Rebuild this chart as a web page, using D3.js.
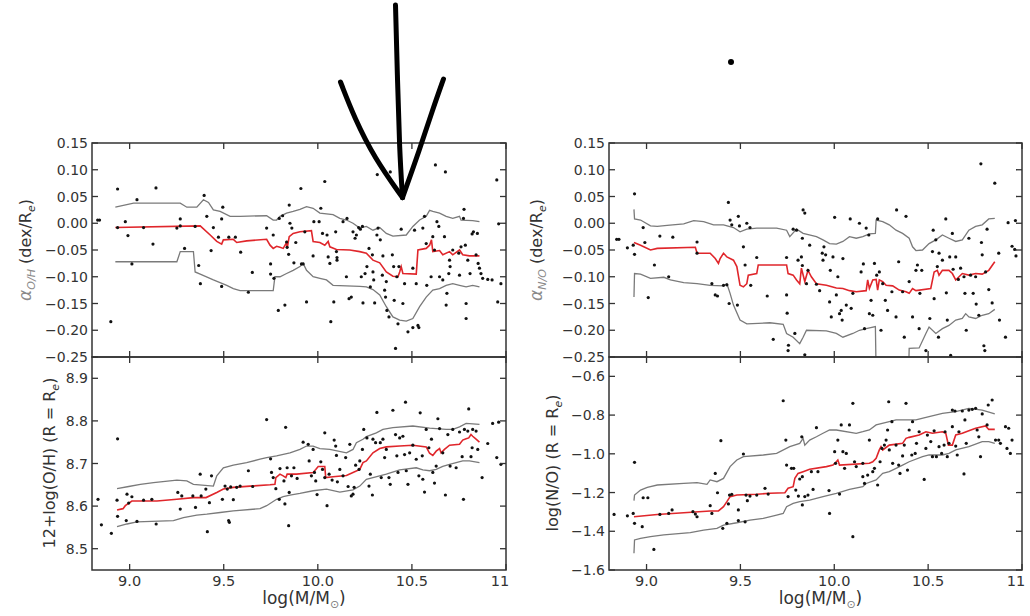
<!DOCTYPE html>
<html><head><meta charset="utf-8">
<script src="https://cdn.jsdelivr.net/npm/d3@7"></script>
<style>html,body{margin:0;padding:0;background:#fff}svg{display:block}</style>
</head><body>
<svg id="c" width="1030" height="616"></svg>
<script>
// ---------------- DATA ----------------
const xTicks = [9.0, 9.5, 10.0, 10.5, 11];
const xTickLabels = ["9.0", "9.5", "10.0", "10.5", "11"];
const alphaTicks = [0.15, 0.10, 0.05, 0.00, -0.05, -0.10, -0.15, -0.20, -0.25];
const ohTicks = [8.5, 8.6, 8.7, 8.8, 8.9];
const noTicks = [-0.6, -0.8, -1.0, -1.2, -1.4, -1.6];

// alpha_O/H vs mass
const alphaOHPts = [[8.83,0.006],[8.84,0.006],[8.90,-0.184],[8.936,0.064],[8.936,-0.008],[8.977,0.003],[8.991,-0.023],[9.012,-0.076],[9.039,0.044],[9.074,-0.008],[9.124,-0.039],[9.140,0.066],[9.251,-0.009],[9.269,0.008],[9.269,-0.005],[9.292,-0.047],[9.348,-0.006],[9.367,-0.079],[9.376,-0.113],[9.396,0.052],[9.410,0.013],[9.433,-0.051],[9.445,-0.008],[9.489,0.008],[9.495,0.030],[9.472,-0.026],[9.527,-0.026],[9.562,-0.026],[9.489,-0.118],[9.590,-0.054],[9.631,-0.129],[9.652,-0.092],[9.728,-0.009],[9.749,-0.076],[9.749,-0.095],[9.763,-0.022],[9.767,-0.103],[9.790,-0.163],[9.795,0.009],[9.813,0.014],[9.825,-0.153],[9.834,-0.035],[9.837,-0.045],[9.845,-0.058],[9.848,0.034],[9.852,0.000],[9.862,-0.009],[9.873,-0.074],[9.883,-0.036],[9.910,0.065],[9.913,-0.076],[9.922,-0.076],[9.931,-0.016],[9.940,-0.147],[9.975,-0.061],[9.979,0.003],[10.007,0.003],[10.016,0.028],[10.037,0.078],[10.025,-0.019],[10.049,-0.022],[10.055,-0.063],[10.064,-0.075],[10.069,-0.184],[10.085,-0.147],[10.095,-0.016],[10.099,-0.053],[10.102,-0.064],[10.102,-0.069],[10.134,0.003],[10.155,0.009],[10.152,-0.100],[10.166,-0.141],[10.178,-0.138],[10.187,-0.016],[10.198,-0.028],[10.205,-0.022],[10.217,-0.008],[10.226,-0.011],[10.237,-0.006],[10.231,-0.100],[10.240,-0.149],[10.251,-0.094],[10.261,-0.081],[10.272,-0.047],[10.279,-0.119],[10.290,-0.059],[10.293,-0.091],[10.297,-0.106],[10.302,-0.149],[10.316,0.091],[10.314,-0.022],[10.320,-0.009],[10.332,-0.031],[10.343,-0.097],[10.346,-0.061],[10.355,-0.125],[10.360,-0.138],[10.364,-0.109],[10.367,-0.163],[10.378,-0.175],[10.385,0.096],[10.396,-0.059],[10.403,-0.081],[10.406,-0.144],[10.413,-0.234],[10.420,-0.100],[10.431,-0.081],[10.426,-0.188],[10.443,-0.011],[10.452,-0.150],[10.461,-0.113],[10.479,-0.203],[10.505,-0.195],[10.532,-0.191],[10.505,-0.084],[10.514,-0.013],[10.523,-0.113],[10.537,-0.195],[10.558,-0.009],[10.567,0.013],[10.576,-0.038],[10.579,-0.116],[10.602,-0.100],[10.611,-0.025],[10.620,-0.050],[10.625,0.109],[10.633,0.003],[10.643,-0.006],[10.647,-0.100],[10.664,-0.106],[10.673,-0.025],[10.686,-0.131],[10.682,-0.153],[10.696,-0.094],[10.700,-0.069],[10.703,-0.081],[10.678,0.096],[10.717,-0.050],[10.749,-0.056],[10.753,-0.097],[10.761,-0.044],[10.774,0.009],[10.777,0.026],[10.784,-0.041],[10.788,-0.178],[10.788,-0.150],[10.797,-0.069],[10.809,-0.094],[10.820,-0.020],[10.827,-0.016],[10.841,-0.059],[10.848,-0.019],[10.852,-0.075],[10.859,-0.084],[10.867,-0.094],[10.876,-0.103],[10.903,-0.105],[10.926,-0.106],[10.951,0.081],[10.956,-0.147],[10.961,-0.001],[10.973,-0.113]];
const alphaOHMed = [[8.924,-0.008],[9.375,-0.005],[9.428,-0.022],[9.463,-0.034],[9.489,-0.039],[9.498,-0.031],[9.551,-0.030],[9.569,-0.036],[9.622,-0.033],[9.728,-0.030],[9.746,-0.041],[9.763,-0.047],[9.781,-0.043],[9.799,-0.045],[9.816,-0.047],[9.834,-0.036],[9.837,-0.047],[9.848,-0.025],[9.869,-0.019],[9.905,-0.016],[9.966,-0.014],[9.975,-0.034],[10.011,-0.036],[10.037,-0.041],[10.055,-0.034],[10.064,-0.044],[10.099,-0.049],[10.170,-0.050],[10.223,-0.053],[10.258,-0.056],[10.293,-0.069],[10.329,-0.074],[10.364,-0.091],[10.399,-0.099],[10.426,-0.100],[10.435,-0.091],[10.443,-0.081],[10.452,-0.094],[10.523,-0.095],[10.532,-0.050],[10.576,-0.047],[10.594,-0.041],[10.604,-0.031],[10.611,-0.053],[10.647,-0.051],[10.664,-0.059],[10.700,-0.053],[10.717,-0.059],[10.753,-0.050],[10.770,-0.059],[10.806,-0.061],[10.859,-0.061]];
const alphaOHHi = [[8.924,0.030],[9.021,0.0375],[9.269,0.0375],[9.304,0.030],[9.357,0.030],[9.392,0.044],[9.419,0.039],[9.445,0.025],[9.481,0.022],[9.534,0.013],[9.587,0.013],[9.728,0.014],[9.763,0.006],[9.781,0.006],[9.799,0.013],[9.834,0.019],[9.869,0.022],[9.905,0.026],[9.940,0.031],[9.975,0.028],[10.011,0.019],[10.081,0.016],[10.117,0.009],[10.152,0.006],[10.187,0.000],[10.223,-0.009],[10.258,-0.006],[10.293,-0.013],[10.329,-0.008],[10.364,-0.019],[10.399,-0.024],[10.470,-0.022],[10.505,-0.006],[10.541,0.006],[10.576,0.013],[10.594,0.024],[10.611,0.022],[10.647,0.019],[10.682,0.013],[10.717,0.009],[10.753,0.013],[10.761,0.006],[10.823,0.005],[10.859,0.003]];
const alphaOHLo = [[8.924,-0.072],[9.251,-0.072],[9.269,-0.053],[9.339,-0.053],[9.348,-0.091],[9.375,-0.095],[9.445,-0.106],[9.516,-0.116],[9.551,-0.122],[9.587,-0.126],[9.763,-0.126],[9.772,-0.100],[9.799,-0.100],[9.834,-0.094],[9.869,-0.088],[9.905,-0.081],[9.922,-0.075],[9.940,-0.088],[9.975,-0.100],[10.011,-0.103],[10.046,-0.106],[10.081,-0.116],[10.223,-0.118],[10.258,-0.119],[10.293,-0.124],[10.329,-0.134],[10.364,-0.156],[10.399,-0.175],[10.435,-0.181],[10.470,-0.183],[10.505,-0.178],[10.541,-0.156],[10.576,-0.138],[10.611,-0.125],[10.647,-0.122],[10.682,-0.116],[10.717,-0.113],[10.753,-0.116],[10.788,-0.119],[10.823,-0.116],[10.859,-0.119]];

// 12+log(O/H) at Re vs mass
const ohPts = [[8.832,8.616],[8.850,8.556],[8.903,8.536],[8.933,8.614],[8.936,8.758],[8.936,8.576],[8.982,8.566],[8.995,8.607],[8.986,8.628],[9.012,8.622],[9.039,8.564],[9.074,8.614],[9.118,8.616],[9.141,8.558],[9.256,8.632],[9.269,8.593],[9.277,8.624],[9.336,8.624],[9.350,8.597],[9.375,8.675],[9.380,8.624],[9.405,8.640],[9.413,8.540],[9.424,8.608],[9.435,8.671],[9.493,8.616],[9.507,8.647],[9.519,8.640],[9.526,8.566],[9.530,8.562],[9.537,8.645],[9.551,8.615],[9.569,8.644],[9.587,8.647],[9.631,8.683],[9.654,8.646],[9.728,8.803],[9.749,8.711],[9.754,8.679],[9.763,8.667],[9.777,8.641],[9.795,8.616],[9.799,8.688],[9.820,8.659],[9.825,8.605],[9.829,8.785],[9.837,8.690],[9.845,8.554],[9.848,8.632],[9.860,8.671],[9.873,8.690],[9.890,8.665],[9.922,8.750],[9.949,8.745],[9.954,8.706],[9.966,8.671],[9.975,8.733],[9.982,8.679],[9.989,8.659],[9.996,8.627],[10.016,8.704],[10.025,8.686],[10.037,8.772],[10.037,8.667],[10.049,8.601],[10.060,8.675],[10.076,8.661],[10.087,8.755],[10.095,8.741],[10.099,8.719],[10.104,8.657],[10.117,8.686],[10.134,8.671],[10.148,8.714],[10.161,8.646],[10.170,8.745],[10.178,8.624],[10.187,8.628],[10.193,8.644],[10.201,8.696],[10.219,8.686],[10.223,8.706],[10.237,8.733],[10.244,8.780],[10.261,8.760],[10.272,8.647],[10.279,8.675],[10.290,8.626],[10.293,8.757],[10.307,8.749],[10.314,8.820],[10.332,8.749],[10.337,8.667],[10.346,8.757],[10.355,8.714],[10.364,8.733],[10.378,8.667],[10.385,8.651],[10.399,8.825],[10.413,8.768],[10.420,8.718],[10.426,8.679],[10.435,8.760],[10.452,8.764],[10.461,8.721],[10.466,8.844],[10.470,8.683],[10.479,8.651],[10.488,8.725],[10.505,8.743],[10.523,8.710],[10.537,8.671],[10.544,8.819],[10.555,8.718],[10.558,8.663],[10.567,8.633],[10.576,8.780],[10.590,8.737],[10.604,8.757],[10.611,8.679],[10.620,8.654],[10.629,8.694],[10.638,8.805],[10.647,8.782],[10.664,8.725],[10.678,8.626],[10.691,8.768],[10.703,8.694],[10.717,8.780],[10.735,8.690],[10.753,8.774],[10.767,8.716],[10.774,8.616],[10.779,8.780],[10.797,8.776],[10.802,8.828],[10.814,8.716],[10.820,8.737],[10.823,8.780],[10.841,8.776],[10.850,8.733],[10.873,8.667],[10.903,8.747],[10.929,8.794],[10.951,8.714],[10.961,8.797],[10.973,8.698]];
const ohMed = [[8.933,8.591],[8.965,8.594],[8.977,8.601],[9.012,8.612],[9.145,8.612],[9.251,8.616],[9.339,8.620],[9.406,8.620],[9.463,8.632],[9.498,8.640],[9.551,8.644],[9.640,8.647],[9.746,8.650],[9.772,8.651],[9.777,8.667],[9.799,8.675],[9.816,8.671],[9.830,8.667],[9.837,8.675],[9.887,8.675],[9.975,8.679],[9.989,8.686],[10.002,8.693],[10.037,8.693],[10.042,8.667],[10.081,8.669],[10.152,8.672],[10.187,8.679],[10.223,8.686],[10.240,8.702],[10.258,8.706],[10.293,8.725],[10.329,8.735],[10.364,8.739],[10.435,8.741],[10.505,8.743],[10.576,8.739],[10.594,8.724],[10.611,8.719],[10.629,8.729],[10.647,8.735],[10.655,8.725],[10.673,8.733],[10.700,8.743],[10.753,8.745],[10.770,8.755],[10.788,8.758],[10.802,8.760],[10.814,8.768],[10.823,8.764],[10.841,8.757],[10.859,8.750]];
const ohHi = [[8.933,8.641],[8.995,8.646],[9.057,8.651],[9.127,8.655],[9.251,8.661],[9.304,8.659],[9.339,8.651],[9.445,8.647],[9.463,8.671],[9.498,8.690],[9.551,8.696],[9.622,8.702],[9.693,8.710],[9.728,8.714],[9.781,8.718],[9.852,8.725],[9.905,8.733],[9.940,8.741],[9.975,8.741],[10.011,8.735],[10.064,8.733],[10.152,8.725],[10.187,8.733],[10.205,8.749],[10.240,8.757],[10.258,8.763],[10.311,8.772],[10.346,8.780],[10.399,8.784],[10.505,8.788],[10.594,8.783],[10.682,8.780],[10.717,8.780],[10.753,8.786],[10.788,8.794],[10.859,8.792]];
const ohLo = [[8.933,8.552],[8.986,8.558],[9.039,8.563],[9.233,8.566],[9.286,8.573],[9.357,8.579],[9.410,8.581],[9.481,8.585],[9.551,8.589],[9.693,8.594],[9.728,8.601],[9.781,8.616],[9.816,8.622],[9.852,8.626],[9.905,8.630],[9.975,8.636],[10.046,8.640],[10.117,8.633],[10.187,8.638],[10.223,8.647],[10.258,8.663],[10.293,8.667],[10.364,8.675],[10.435,8.685],[10.523,8.690],[10.558,8.685],[10.594,8.683],[10.629,8.686],[10.664,8.693],[10.700,8.698],[10.735,8.702],[10.770,8.706],[10.806,8.706],[10.859,8.702]];

// alpha_N/O vs mass
const alphaNOPts = [[8.841,-0.030],[8.853,-0.030],[8.898,-0.046],[8.936,0.055],[8.936,-0.058],[8.929,-0.041],[8.982,-0.008],[8.991,-0.036],[9.009,-0.139],[9.042,-0.078],[9.071,-0.024],[9.118,-0.100],[9.140,-0.026],[9.269,-0.035],[9.269,-0.056],[9.348,-0.113],[9.366,-0.134],[9.378,-0.136],[9.410,-0.116],[9.436,0.039],[9.428,-0.115],[9.440,-0.150],[9.445,0.006],[9.454,-0.003],[9.484,-0.153],[9.489,0.013],[9.495,-0.005],[9.516,-0.044],[9.525,-0.078],[9.534,0.000],[9.551,-0.008],[9.555,-0.116],[9.587,-0.064],[9.643,-0.136],[9.675,-0.217],[9.746,-0.064],[9.746,-0.134],[9.749,-0.168],[9.754,-0.238],[9.756,-0.228],[9.781,-0.011],[9.790,-0.206],[9.799,-0.013],[9.807,-0.069],[9.825,-0.063],[9.830,-0.079],[9.830,-0.028],[9.834,0.025],[9.843,0.019],[9.843,-0.246],[9.852,-0.113],[9.860,-0.088],[9.869,-0.041],[9.905,-0.114],[9.922,-0.126],[9.936,-0.056],[9.940,-0.069],[9.945,-0.044],[9.954,-0.059],[9.975,-0.147],[9.979,-0.088],[9.984,-0.175],[9.993,-0.063],[10.002,0.011],[10.011,-0.134],[10.019,-0.100],[10.028,-0.169],[10.037,-0.163],[10.042,-0.181],[10.046,-0.066],[10.064,-0.153],[10.085,0.008],[10.090,-0.159],[10.099,-0.131],[10.134,0.000],[10.143,-0.091],[10.155,-0.076],[10.161,-0.197],[10.170,-0.009],[10.184,-0.022],[10.187,-0.169],[10.196,-0.144],[10.205,-0.172],[10.214,-0.075],[10.226,-0.097],[10.231,0.008],[10.240,-0.091],[10.249,-0.200],[10.258,-0.113],[10.272,-0.144],[10.284,-0.163],[10.307,-0.128],[10.329,-0.175],[10.332,0.025],[10.343,-0.072],[10.364,-0.128],[10.373,-0.213],[10.382,0.013],[10.399,-0.109],[10.417,-0.175],[10.435,-0.088],[10.443,-0.078],[10.452,-0.197],[10.456,-0.131],[10.466,-0.088],[10.488,-0.238],[10.509,-0.178],[10.523,-0.053],[10.527,-0.013],[10.532,-0.141],[10.541,-0.031],[10.549,-0.081],[10.555,-0.213],[10.558,-0.056],[10.576,-0.069],[10.594,0.008],[10.597,-0.130],[10.602,-0.181],[10.615,-0.063],[10.620,-0.247],[10.629,-0.019],[10.633,-0.086],[10.647,-0.063],[10.661,-0.105],[10.673,-0.084],[10.691,-0.100],[10.696,-0.131],[10.703,-0.200],[10.717,-0.028],[10.726,-0.097],[10.740,-0.131],[10.753,-0.100],[10.756,-0.151],[10.770,-0.172],[10.781,0.111],[10.784,-0.036],[10.788,-0.059],[10.797,-0.229],[10.802,-0.238],[10.806,-0.091],[10.814,-0.011],[10.823,-0.124],[10.841,-0.149],[10.855,0.075],[10.876,-0.056],[10.880,-0.181],[10.912,-0.213],[10.926,0.001],[10.947,-0.043],[10.961,-0.049],[10.968,-0.061],[10.965,0.005]];
const alphaNOMed = [[8.933,-0.036],[8.968,-0.041],[9.021,-0.050],[9.057,-0.047],[9.260,-0.045],[9.269,-0.056],[9.339,-0.056],[9.366,-0.066],[9.383,-0.075],[9.392,-0.066],[9.410,-0.056],[9.428,-0.063],[9.463,-0.069],[9.481,-0.081],[9.498,-0.116],[9.516,-0.119],[9.534,-0.113],[9.542,-0.097],[9.587,-0.094],[9.595,-0.078],[9.746,-0.078],[9.754,-0.094],[9.781,-0.097],[9.799,-0.106],[9.816,-0.113],[9.825,-0.084],[9.843,-0.109],[9.860,-0.088],[9.878,-0.100],[9.905,-0.113],[9.958,-0.116],[10.011,-0.121],[10.046,-0.122],[10.081,-0.126],[10.117,-0.128],[10.170,-0.126],[10.178,-0.106],[10.187,-0.122],[10.205,-0.106],[10.223,-0.105],[10.231,-0.125],[10.240,-0.106],[10.258,-0.109],[10.276,-0.116],[10.311,-0.117],[10.346,-0.125],[10.382,-0.128],[10.399,-0.131],[10.417,-0.122],[10.435,-0.126],[10.514,-0.122],[10.532,-0.091],[10.549,-0.088],[10.558,-0.097],[10.576,-0.088],[10.611,-0.088],[10.629,-0.094],[10.647,-0.106],[10.682,-0.094],[10.717,-0.097],[10.753,-0.094],[10.788,-0.095],[10.823,-0.088],[10.855,-0.072]];
const alphaNOHi = [[8.933,0.026],[8.936,0.008],[8.968,0.006],[9.021,-0.005],[9.057,-0.006],[9.110,-0.004],[9.198,-0.001],[9.251,0.005],[9.304,0.003],[9.357,-0.003],[9.410,-0.003],[9.463,-0.008],[9.498,-0.016],[9.534,-0.011],[9.587,-0.009],[9.693,-0.009],[9.746,-0.013],[9.763,-0.025],[9.799,-0.011],[9.834,-0.019],[9.905,-0.025],[9.940,-0.031],[9.975,-0.038],[10.011,-0.039],[10.046,-0.034],[10.081,-0.025],[10.117,-0.028],[10.152,-0.025],[10.187,-0.020],[10.219,-0.019],[10.223,0.006],[10.258,0.003],[10.293,-0.003],[10.329,-0.013],[10.364,-0.019],[10.399,-0.028],[10.417,-0.044],[10.435,-0.051],[10.470,-0.050],[10.505,-0.038],[10.541,-0.031],[10.576,-0.022],[10.611,-0.028],[10.647,-0.034],[10.682,-0.031],[10.717,-0.013],[10.753,-0.006],[10.788,-0.003],[10.823,0.008],[10.855,0.009]];
const alphaNOLo = [[8.933,-0.138],[8.936,-0.094],[8.968,-0.095],[9.021,-0.103],[9.092,-0.101],[9.127,-0.106],[9.198,-0.111],[9.269,-0.113],[9.339,-0.116],[9.410,-0.117],[9.428,-0.113],[9.445,-0.131],[9.463,-0.153],[9.498,-0.181],[9.534,-0.188],[9.657,-0.186],[9.728,-0.189],[9.746,-0.206],[9.781,-0.213],[9.816,-0.225],[9.834,-0.213],[9.852,-0.200],[9.958,-0.201],[10.011,-0.206],[10.046,-0.213],[10.099,-0.206],[10.134,-0.200],[10.170,-0.197],[10.219,-0.193],[10.223,-0.280],[10.396,-0.280],[10.399,-0.234],[10.452,-0.233],[10.488,-0.206],[10.505,-0.194],[10.541,-0.206],[10.576,-0.197],[10.611,-0.191],[10.647,-0.181],[10.682,-0.178],[10.700,-0.169],[10.717,-0.175],[10.753,-0.178],[10.788,-0.172],[10.823,-0.169],[10.855,-0.161]];

// log(N/O) at Re vs mass
const noPts = [[8.827,-1.313],[8.898,-1.320],[8.929,-1.308],[8.936,-1.359],[8.936,-1.044],[8.977,-1.376],[8.982,-1.227],[9.007,-1.227],[9.039,-1.494],[9.071,-1.313],[9.118,-1.308],[9.136,-1.290],[9.247,-1.299],[9.260,-1.311],[9.269,-1.325],[9.339,-1.268],[9.348,-1.308],[9.366,-1.101],[9.378,-1.201],[9.396,-0.932],[9.406,-1.385],[9.428,-1.359],[9.436,-1.259],[9.442,-1.213],[9.454,-1.209],[9.489,-1.290],[9.489,-1.345],[9.516,-1.001],[9.525,-1.351],[9.530,-1.213],[9.537,-1.242],[9.551,-1.218],[9.587,-1.213],[9.631,-1.178],[9.648,-1.208],[9.728,-0.726],[9.742,-0.929],[9.746,-1.058],[9.754,-1.221],[9.772,-1.075],[9.784,-1.075],[9.795,-1.187],[9.809,-1.218],[9.816,-1.130],[9.827,-0.912],[9.830,-1.118],[9.830,-1.264],[9.843,-1.221],[9.860,-1.213],[9.878,-1.092],[9.887,-1.184],[9.905,-0.865],[9.913,-1.092],[9.972,-1.190],[9.975,-1.308],[10.002,-0.989],[10.007,-1.049],[10.019,-0.929],[10.028,-1.208],[10.037,-0.851],[10.046,-0.989],[10.055,-1.075],[10.064,-0.998],[10.081,-0.851],[10.099,-0.739],[10.108,-1.041],[10.099,-1.428],[10.117,-1.066],[10.152,-1.049],[10.152,-1.118],[10.161,-1.153],[10.178,-1.110],[10.187,-0.929],[10.205,-1.092],[10.214,-1.075],[10.231,-1.161],[10.244,-1.041],[10.254,-0.972],[10.267,-0.955],[10.276,-0.929],[10.284,-0.877],[10.290,-0.731],[10.293,-0.980],[10.307,-0.834],[10.311,-1.049],[10.329,-0.955],[10.343,-1.058],[10.350,-1.101],[10.364,-1.011],[10.373,-0.955],[10.382,-0.739],[10.390,-1.084],[10.399,-0.877],[10.413,-1.006],[10.417,-0.834],[10.431,-0.998],[10.438,-0.946],[10.452,-0.886],[10.479,-1.132],[10.488,-0.972],[10.496,-0.903],[10.514,-0.937],[10.523,-1.015],[10.532,-0.881],[10.544,-1.015],[10.558,-0.963],[10.572,-0.998],[10.585,-0.955],[10.590,-0.886],[10.602,-1.015],[10.611,-0.946],[10.629,-0.860],[10.629,-0.774],[10.643,-0.779],[10.647,-0.960],[10.655,-1.006],[10.664,-0.886],[10.682,-0.779],[10.691,-1.104],[10.696,-0.825],[10.703,-0.946],[10.717,-0.774],[10.735,-0.770],[10.753,-0.765],[10.761,-0.877],[10.770,-0.912],[10.779,-1.015],[10.788,-0.794],[10.814,-0.851],[10.820,-0.748],[10.841,-0.722],[10.859,-0.929],[10.876,-0.929],[10.885,-0.946],[10.912,-0.860],[10.920,-0.972],[10.929,-0.868],[10.938,-0.998],[10.947,-0.929]];
const noMed = [[8.933,-1.325],[9.057,-1.313],[9.198,-1.304],[9.339,-1.295],[9.383,-1.295],[9.410,-1.273],[9.428,-1.247],[9.445,-1.221],[9.481,-1.213],[9.587,-1.209],[9.657,-1.204],[9.737,-1.201],[9.754,-1.178],[9.781,-1.170],[9.790,-1.127],[9.807,-1.101],[9.834,-1.092],[9.869,-1.080],[9.958,-1.066],[9.993,-1.058],[10.011,-1.041],[10.019,-1.032],[10.028,-1.058],[10.187,-1.049],[10.205,-1.041],[10.223,-1.023],[10.240,-0.980],[10.249,-0.963],[10.258,-0.980],[10.293,-0.955],[10.364,-0.946],[10.382,-0.920],[10.399,-0.915],[10.452,-0.903],[10.488,-0.886],[10.523,-0.894],[10.576,-0.886],[10.594,-0.894],[10.608,-0.955],[10.629,-0.955],[10.647,-0.903],[10.682,-0.894],[10.717,-0.881],[10.753,-0.868],[10.806,-0.856],[10.823,-0.874],[10.855,-0.874]];
const noHi = [[8.933,-1.242],[8.936,-1.213],[8.968,-1.187],[9.004,-1.173],[9.057,-1.161],[9.198,-1.153],[9.269,-1.149],[9.322,-1.158],[9.339,-1.135],[9.375,-1.144],[9.410,-1.127],[9.445,-1.066],[9.481,-1.032],[9.516,-1.015],[9.622,-1.006],[9.693,-0.998],[9.763,-0.963],[9.816,-0.946],[9.834,-0.920],[9.843,-0.955],[9.869,-0.929],[9.905,-0.912],[9.940,-0.894],[9.975,-0.877],[10.011,-0.877],[10.117,-0.894],[10.152,-0.886],[10.187,-0.877],[10.223,-0.851],[10.293,-0.834],[10.329,-0.825],[10.435,-0.825],[10.505,-0.808],[10.576,-0.791],[10.647,-0.782],[10.717,-0.765],[10.788,-0.774],[10.855,-0.794]];
const noLo = [[8.933,-1.514],[8.936,-1.445],[8.968,-1.437],[9.021,-1.428],[9.092,-1.419],[9.233,-1.407],[9.304,-1.394],[9.375,-1.385],[9.410,-1.368],[9.481,-1.356],[9.551,-1.342],[9.622,-1.333],[9.693,-1.316],[9.728,-1.308],[9.746,-1.273],[9.781,-1.256],[9.816,-1.247],[9.869,-1.239],[9.940,-1.221],[10.011,-1.204],[10.081,-1.184],[10.152,-1.170],[10.170,-1.153],[10.223,-1.135],[10.258,-1.101],[10.293,-1.092],[10.329,-1.075],[10.364,-1.058],[10.399,-1.041],[10.470,-1.015],[10.505,-1.006],[10.576,-1.006],[10.611,-0.998],[10.647,-0.980],[10.717,-0.963],[10.788,-0.937],[10.823,-0.937],[10.855,-0.946]];

// ---------------- DRAWING ----------------
const svg = d3.select("#c");
const FONT = "'DejaVu Sans', 'Liberation Sans', sans-serif";
const TXT = "#333";
const xDomain = [8.8, 11];
const colL = [92, 506], colR = [609, 1022];
const rowTop = [357, 143], rowBot = [570, 357];

const panels = [
  {id:"a", cols:colL, rows:rowTop, yDomain:[-0.25,0.15], yTicks:alphaTicks, fmt:d3.format(".2f"), pts:alphaOHPts, med:alphaOHMed, hi:alphaOHHi, lo:alphaOHLo, xLabels:false},
  {id:"b", cols:colL, rows:rowBot, yDomain:[8.45,8.95], yTicks:ohTicks, fmt:d3.format(".1f"), pts:ohPts, med:ohMed, hi:ohHi, lo:ohLo, xLabels:true},
  {id:"c", cols:colR, rows:rowTop, yDomain:[-0.25,0.15], yTicks:alphaTicks, fmt:d3.format(".2f"), pts:alphaNOPts, med:alphaNOMed, hi:alphaNOHi, lo:alphaNOLo, xLabels:false},
  {id:"d", cols:colR, rows:rowBot, yDomain:[-1.6,-0.5], yTicks:noTicks, fmt:d3.format(".1f"), pts:noPts, med:noMed, hi:noHi, lo:noLo, xLabels:true}
];

const defs = svg.append("defs");
const TL = 6;

panels.forEach(p => {
  const x = d3.scaleLinear(xDomain, p.cols);
  const y = d3.scaleLinear(p.yDomain, p.rows);
  p.x = x; p.y = y;
  const [x0, x1] = p.cols, [yb, yt] = p.rows;
  defs.append("clipPath").attr("id", "clip-" + p.id)
    .append("rect").attr("x", x0).attr("y", yt).attr("width", x1 - x0).attr("height", yb - yt);
  const g = svg.append("g").attr("clip-path", `url(#clip-${p.id})`);
  const line = d3.line().x(d => x(d[0])).y(d => y(d[1]));
  g.append("path").datum(p.hi).attr("d", line).attr("fill", "none").attr("stroke", "#7a7a7a").attr("stroke-width", 1.3);
  g.append("path").datum(p.lo).attr("d", line).attr("fill", "none").attr("stroke", "#7a7a7a").attr("stroke-width", 1.3);
  g.append("path").datum(p.med).attr("d", line).attr("fill", "none").attr("stroke", "#e0262b").attr("stroke-width", 1.6);
  g.selectAll("circle").data(p.pts).join("circle")
    .attr("cx", d => x(d[0])).attr("cy", d => y(d[1])).attr("r", 1.6).attr("fill", "#111");

  // frame
  svg.append("rect").attr("x", x0).attr("y", yt).attr("width", x1 - x0).attr("height", yb - yt)
    .attr("fill", "none").attr("stroke", "#333").attr("stroke-width", 1.5);

  const tk = svg.append("g").attr("stroke", "#333").attr("stroke-width", 1.3);
  xTicks.forEach(v => {
    const xx = x(v);
    tk.append("line").attr("x1", xx).attr("x2", xx).attr("y1", yb).attr("y2", yb - TL);
    tk.append("line").attr("x1", xx).attr("x2", xx).attr("y1", yt).attr("y2", yt + TL);
  });
  p.yTicks.forEach(v => {
    const yy = y(v);
    tk.append("line").attr("x1", x0).attr("x2", x0 + TL).attr("y1", yy).attr("y2", yy);
    tk.append("line").attr("x1", x1).attr("x2", x1 - TL).attr("y1", yy).attr("y2", yy);
  });
  // y tick labels
  svg.append("g").selectAll("text").data(p.yTicks).join("text")
    .attr("x", x0 - 4).attr("y", d => y(d)).attr("dy", "0.36em")
    .attr("text-anchor", "end").attr("font-family", FONT).attr("font-size", 14).attr("fill", TXT)
    .text(d => p.fmt(d));
  if (p.xLabels) {
    svg.append("g").selectAll("text").data(xTicks).join("text")
      .attr("x", (d, i) => x(d) - (i === xTicks.length - 1 ? 6 : 0)).attr("y", yb + 16)
      .attr("text-anchor", "middle").attr("font-family", FONT).attr("font-size", 14.5).attr("fill", TXT)
      .text((d, i) => xTickLabels[i]);
    const xl = svg.append("text").attr("x", (x0 + x1) / 2 + 5).attr("y", 604)
      .attr("text-anchor", "middle").attr("font-family", FONT).attr("font-size", 17).attr("fill", TXT);
    xl.append("tspan").text("log(M/M");
    xl.append("tspan").text("\u2299").attr("font-size", 11).attr("dy", 4).attr("fill", "#777");
    xl.append("tspan").text(")").attr("dy", -4);
  }
});

// y-axis titles
function yTitle(cx, cy, parts) {
  const t = svg.append("text").attr("transform", `translate(${cx},${cy}) rotate(-90)`)
    .attr("text-anchor", "middle").attr("font-family", FONT).attr("font-size", 16).attr("fill", TXT);
  parts.forEach(pp => {
    const s = t.append("tspan").text(pp.t);
    if (pp.dy) s.attr("dy", pp.dy);
    if (pp.fs) s.attr("font-size", pp.fs);
    if (pp.it) s.attr("font-style", "italic");
    if (pp.c) s.attr("fill", pp.c);
  });
}
const gA = "#8a8a8a";
yTitle(31, 250, [{t:"\u03b1", it:true, c:gA, fs:17},{t:"O/H", it:true, c:gA, fs:11, dy:4},{t:" (dex/R", dy:-4},{t:"e", it:true, fs:11, dy:4},{t:")", dy:-4}]);
yTitle(55, 463, [{t:"12+log(O/H) (R = R"},{t:"e", it:true, fs:11, dy:4},{t:")", dy:-4}]);
yTitle(542, 250, [{t:"\u03b1", it:true, c:gA, fs:17},{t:"N/O", it:true, c:gA, fs:11, dy:4},{t:" (dex/R", dy:-4},{t:"e", it:true, fs:11, dy:4},{t:")", dy:-4}]);
yTitle(558, 463, [{t:"log(N/O) (R = R"},{t:"e", it:true, fs:11, dy:4},{t:")", dy:-4}]);

// hand-drawn annotation: arrow pointing at the O/H gradient panel, and a stray dot
const tip = [panels[0].x(10.45), panels[0].y(0.048)];
const ann = svg.append("g").attr("fill", "none").attr("stroke", "#000").attr("stroke-width", 5)
  .attr("stroke-linecap", "round").attr("stroke-linejoin", "round");
const curve = d3.line().curve(d3.curveBasis);
ann.append("path").attr("d", curve([[tip[0] - 7, 5], [tip[0] - 5, 80], [tip[0] - 3, 150], tip]));
ann.append("path").attr("d", curve([[tip[0] - 62, 82], [tip[0] - 48, 118], [tip[0] - 28, 158], tip]));
ann.append("path").attr("d", curve([[tip[0] + 41, 79], [tip[0] + 30, 110], [tip[0] + 17, 150], tip]));
svg.append("circle").attr("cx", 731).attr("cy", 62).attr("r", 3).attr("fill", "#000");
</script>
</body></html>
